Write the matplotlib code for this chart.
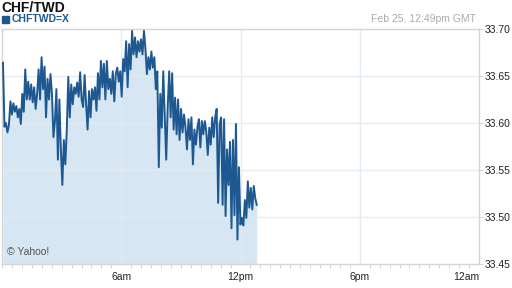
import matplotlib
matplotlib.use('Agg')
from matplotlib import pyplot as plt
from matplotlib.ticker import MultipleLocator
import numpy as np

plt.rcParams['font.family'] = ['Liberation Sans', 'DejaVu Sans']

# intraday CHF/TWD quotes (00:00 -> 12:49 GMT)
prices = [
    33.664, 33.596, 33.600, 33.590, 33.598,
    33.623, 33.609, 33.621, 33.612, 33.618,
    33.606, 33.615, 33.599,
    33.631, 33.612,
    33.657, 33.625,
    33.644, 33.625, 33.641, 33.622, 33.638,
    33.615, 33.631,
    33.657, 33.625, 33.670, 33.636,
    33.660, 33.606, 33.647,
    33.625, 33.652, 33.631,
    33.585, 33.602,
    33.636, 33.561, 33.625, 33.572,
    33.534, 33.582,
    33.556, 33.593,
    33.649, 33.606, 33.641,
    33.620, 33.638,
    33.631, 33.643, 33.628,
    33.654, 33.625,
    33.617, 33.651, 33.620,
    33.593, 33.634, 33.606,
    33.636, 33.625, 33.638,
    33.613, 33.653, 33.625,
    33.666, 33.638, 33.663,
    33.625, 33.666, 33.636,
    33.647, 33.631, 33.655,
    33.623, 33.652,
    33.659, 33.644, 33.655,
    33.628, 33.668,
    33.655, 33.687,
    33.638, 33.684, 33.657, 33.698,
    33.673, 33.691, 33.670,
    33.687, 33.676, 33.689,
    33.673, 33.698, 33.679,
    33.652, 33.670, 33.657,
    33.676, 33.659, 33.670,
    33.636, 33.655,
    33.553, 33.631,
    33.595, 33.655, 33.609,
    33.561, 33.617,
    33.655, 33.606, 33.653,
    33.593, 33.627, 33.588,
    33.625, 33.582, 33.615,
    33.590, 33.609, 33.595,
    33.572, 33.604, 33.582,
    33.606, 33.556,
    33.593, 33.577, 33.595,
    33.604, 33.574, 33.602,
    33.588, 33.602, 33.591,
    33.566, 33.595, 33.577,
    33.606, 33.585, 33.606,
    33.615, 33.515, 33.599,
    33.606, 33.513,
    33.604, 33.501,
    33.572, 33.534, 33.580,
    33.488, 33.582,
    33.502, 33.599,
    33.476, 33.553,
    33.492, 33.499, 33.491,
    33.518, 33.499,
    33.538, 33.510, 33.531,
    33.508, 33.533,
    33.520, 33.513,
]
start_hour = 0.05
end_hour = 12 + 49 / 60.0
hours = np.linspace(start_hour, end_hour, len(prices))

tick_hours = [6, 12, 18, 24]
tick_labels = ['6am', '12pm', '6pm', '12am']
y_ticks = [33.45, 33.50, 33.55, 33.60, 33.65, 33.70]

line_col = '#1d5890'
fill_col = '#d6e6f2'
grid_col = '#e3ebf3'
spine_col = '#d4d4d4'

fig = plt.figure(figsize=(5.12, 2.88), dpi=100)
ax = fig.add_axes([2 / 512, 24 / 288, 477 / 512, 235 / 288])

ax.fill_between(hours, prices, 33.45, color=fill_col, lw=0, zorder=1)
ax.plot(hours, prices, color=line_col, lw=1.4, zorder=3)

ax.set_xlim(0, 24)
ax.set_ylim(33.45, 33.70)

ax.set_xticks(tick_hours)
ax.set_xticklabels(tick_labels)
ax.xaxis.set_minor_locator(MultipleLocator(0.5))
ax.set_yticks(y_ticks)
ax.set_yticklabels(['%.2f' % v for v in y_ticks])
ax.yaxis.tick_right()

for h in tick_hours[:-1]:
    ax.axvline(h, color=grid_col, lw=1, zorder=2)
for v in y_ticks[1:-1]:
    ax.axhline(v, color=grid_col, lw=1, zorder=2)

for s in ax.spines.values():
    s.set_color(spine_col)
    s.set_linewidth(1)

ax.tick_params(axis='x', which='major', length=0, pad=6, labelsize=7.5, colors='#222222')
ax.tick_params(axis='x', which='minor', length=3, width=0.6, color='#cccccc')
ax.tick_params(axis='y', which='major', length=3, width=0.6, color='#cccccc',
               pad=1, labelsize=7.5, labelcolor='#222222')
for lbl in ax.get_xticklabels():
    if lbl.get_text() == '12am':
        lbl.set_horizontalalignment('right')

fig.text(1 / 512, 1 - 7.5 / 288, 'CHF/TWD', fontsize=10, fontweight='bold',
         color='#111111', va='center', ha='left')
fig.patches.append(plt.Rectangle((2 / 512, 1 - 23 / 288), 7 / 512, 7 / 288,
                                 transform=fig.transFigure, color=line_col, figure=fig))
fig.text(12 / 512, 1 - 19.5 / 288, 'CHFTWD=X', fontsize=7.5, fontweight='bold',
         color=line_col, va='center', ha='left')
fig.text(476 / 512, 1 - 19 / 288, 'Feb 25, 12:49pm GMT', fontsize=7.5,
         color='#aaaaaa', va='center', ha='right')
ax.text(0.01, 0.05, '\u00a9 Yahoo!', transform=ax.transAxes, fontsize=7.5,
        color='#555555', va='center', ha='left')

fig.savefig('out.png', dpi=100)
